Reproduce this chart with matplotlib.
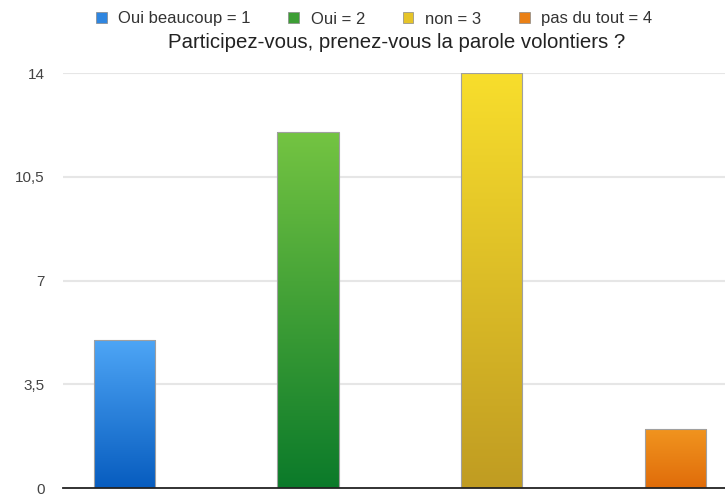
import numpy as np
import matplotlib
matplotlib.use('Agg')
import matplotlib.pyplot as plt
from matplotlib.colors import LinearSegmentedColormap
from matplotlib.patches import Patch

plt.rcParams['font.family'] = ['Liberation Sans', 'DejaVu Sans']

# data
labels = ['Oui beaucoup = 1', 'Oui = 2', 'non = 3', 'pas du tout = 4']
values = [5, 12, 14, 2]
yticks = [0, 3.5, 7, 10.5, 14]
ytick_labels = ['0', '3,5', '7', '10,5', '14']
title = 'Participez-vous, prenez-vous la parole volontiers ?'

# gradient colours (top, bottom)
grads = [('#4ea6f6', '#075cbf'),
         ('#74c442', '#0b7a2a'),
         ('#f8de2c', '#c09c22'),
         ('#f1951f', '#e06c0a')]
legend_cols = ['#2f86e0', '#3d9e35', '#e6c428', '#ea8016']

fig = plt.figure(figsize=(7.25, 4.95), dpi=100)
ax = fig.add_axes([63 / 725, 7 / 495, 1 - 63 / 725, (488 - 73) / 495])

x = np.arange(len(values))
width = 0.333

# grid lines
for t in yticks[1:]:
    ax.axhline(t, color='#e6e6e6', lw=1.5, zorder=0)
ax.axhline(0, color='#222222', lw=1.3, zorder=5, clip_on=False)

grad = np.linspace(0, 1, 256).reshape(-1, 1)
for xi, v, (ctop, cbot) in zip(x, values, grads):
    bars = ax.bar(xi, v, width=width, facecolor='none', edgecolor='#a0a0a0',
                  lw=0.8, zorder=3)
    rect = bars[0]
    cmap = LinearSegmentedColormap.from_list('g', [ctop, cbot])
    im = ax.imshow(grad, cmap=cmap, aspect='auto', origin='upper',
                   extent=[xi - width / 2, xi + width / 2, 0, v], zorder=2)
    im.set_clip_path(rect)

ax.set_xlim(-0.334, 3.27)
ax.set_ylim(0, 14)
ax.set_xticks([])
ax.set_yticks(yticks)
ax.set_yticklabels(ytick_labels)
ax.tick_params(axis='y', length=0, pad=13, labelsize=11, labelcolor='#444444')
for s in ax.spines.values():
    s.set_visible(False)

handles = [Patch(facecolor=c, edgecolor='#888888', lw=0.5) for c in legend_cols]
fig.legend(handles, labels, loc='center', bbox_to_anchor=(374 / 725, 1 - 19 / 495),
           ncol=4, frameon=False, fontsize=12, handlelength=0.65, handleheight=0.65,
           handletextpad=0.7, columnspacing=2.25, labelcolor='#333333')
fig.text(397 / 725, 1 - 43 / 495, title, ha='center', va='center', fontsize=14.7,
         color='#222222')

plt.savefig('out.png', dpi=100)
